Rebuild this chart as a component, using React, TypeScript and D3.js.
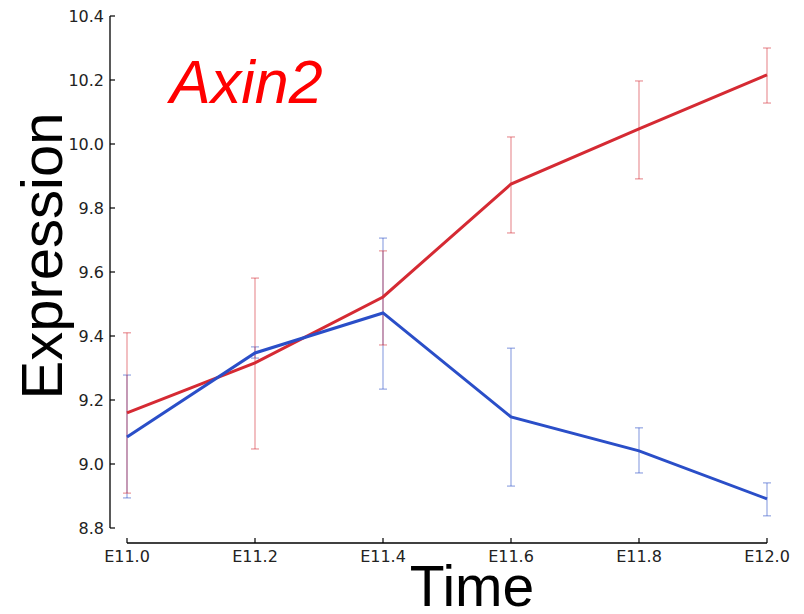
import React from "react";
import * as d3 from "d3";

const times = [11.0, 11.2, 11.4, 11.6, 11.8, 12.0];
const redMean = [9.16, 9.316, 9.522, 9.875, 10.047, 10.216];
const redUpper = [9.41, 9.581, 9.666, 10.022, 10.197, 10.3];
const redLower = [8.909, 9.047, 9.372, 9.722, 9.891, 10.128];
const blueMean = [9.084, 9.347, 9.472, 9.147, 9.041, 8.891];
const blueUpper = [9.278, 9.366, 9.706, 9.362, 9.113, 8.941];
const blueLower = [8.894, 9.331, 9.234, 8.931, 8.972, 8.838];
const yTicks = [8.8, 9.0, 9.2, 9.4, 9.6, 9.8, 10.0, 10.2, 10.4];
const xTicks = [11.0, 11.2, 11.4, 11.6, 11.8, 12.0];

const W = 804;
const H = 614;

export default function App() {
  const x = d3.scaleLinear().domain([11.0, 12.0]).range([127, 767]);
  const y = d3.scaleLinear().domain([8.8, 10.4]).range([528, 16]);
  const line = d3
    .line<number>()
    .x((_, i) => x(times[i]))
    .y((d) => y(d));

  const series = [
    { mean: redMean, up: redUpper, lo: redLower, color: "#d52a33" },
    { mean: blueMean, up: blueUpper, lo: blueLower, color: "#2a4ec8" },
  ];
  const capHalf = 4;
  const xAxisY = 543;

  return (
    <svg
      width={W}
      height={H}
      style={{ position: "absolute", left: 0, top: 0, background: "#fff" }}
      fontFamily="'DejaVu Sans', sans-serif"
    >
      {[...series].reverse().map((s, si) => (
        <g key={"e" + si} stroke={s.color} strokeOpacity={0.5} strokeWidth={1.2}>
          {times.map((t, i) => (
            <g key={i}>
              <line x1={x(t)} x2={x(t)} y1={y(s.up[i])} y2={y(s.lo[i])} />
              <line x1={x(t) - capHalf} x2={x(t) + capHalf} y1={y(s.up[i])} y2={y(s.up[i])} />
              <line x1={x(t) - capHalf} x2={x(t) + capHalf} y1={y(s.lo[i])} y2={y(s.lo[i])} />
            </g>
          ))}
        </g>
      ))}
      {series.map((s, si) => (
        <path key={"l" + si} d={line(s.mean) || ""} fill="none" stroke={s.color} strokeWidth={3} />
      ))}

      <line x1={110} x2={110} y1={y(10.4)} y2={y(8.8)} stroke="#000" strokeWidth={1.3} />
      {yTicks.map((t) => (
        <g key={t}>
          <line x1={110} x2={115} y1={y(t)} y2={y(t)} stroke="#000" strokeWidth={1.2} />
          <text x={104} y={y(t)} dy="0.36em" textAnchor="end" fontSize={16} fill="#222">
            {t.toFixed(1)}
          </text>
        </g>
      ))}

      <line x1={x(11.0)} x2={x(12.0)} y1={xAxisY} y2={xAxisY} stroke="#000" strokeWidth={1.3} />
      {xTicks.map((t) => (
        <g key={t}>
          <line x1={x(t)} x2={x(t)} y1={xAxisY} y2={xAxisY - 5} stroke="#000" strokeWidth={1.2} />
          <text x={x(t)} y={562} textAnchor="middle" fontSize={16} fill="#222">
            {"E" + t.toFixed(1)}
          </text>
        </g>
      ))}

      <text
        transform="translate(62,256) rotate(-90)"
        textAnchor="middle"
        fontSize={58}
        fontFamily="'Liberation Sans', Arial, sans-serif"
        fill="#000"
      >
        Expression
      </text>
      <text
        x={472}
        y={606}
        textAnchor="middle"
        fontSize={57}
        fontFamily="'Liberation Sans', Arial, sans-serif"
        fill="#000"
      >
        Time
      </text>

      <text
        x={170}
        y={103}
        fontSize={61}
        fontStyle="italic"
        fontFamily="'Liberation Sans', Arial, sans-serif"
        fill="#ff0000"
      >
        Axin2
      </text>
    </svg>
  );
}
